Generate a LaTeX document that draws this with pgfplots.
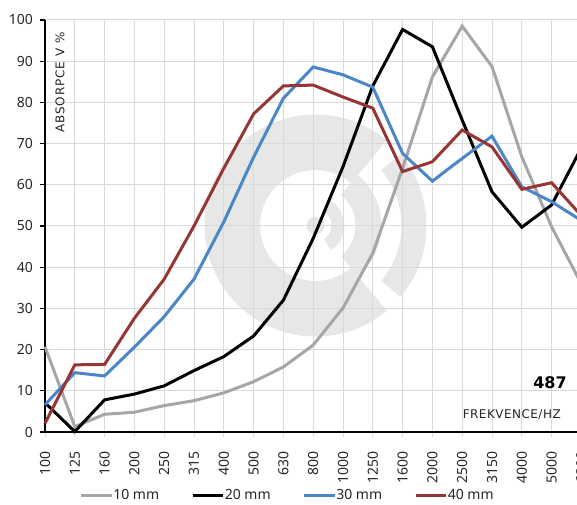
\documentclass[border=0pt]{standalone}
\usepackage{pgfplots}
\pgfplotsset{compat=1.18}
\usepackage{fontspec}
\setmainfont{Noto Sans}
\newfontfamily\lab{DejaVu Sans}
\definecolor{c10}{RGB}{166,166,166}
\definecolor{c20}{RGB}{0,0,0}
\definecolor{c30}{RGB}{74,134,200}
\definecolor{c40}{RGB}{150,54,52}
\definecolor{gridc}{RGB}{217,217,217}
\definecolor{wm}{RGB}{231,231,231}
\definecolor{txt}{RGB}{38,38,38}
\begin{document}
\begin{tikzpicture}[x=1pt,y=1pt]
\path[use as bounding box] (0,0) rectangle (432.75,378.75);
\clip (0,0) rectangle (432.75,378.75);
% watermark logo
\begin{scope}[shift={(236.6,209.6)}]
\fill[wm] (50:83.25) arc[start angle=50,end angle=310,radius=83.25] -- (310:41.6) arc[start angle=310,end angle=50,radius=41.6] -- cycle;
\fill[wm] (40:83.25) arc[start angle=40,end angle=-40,radius=83.25] -- (-40:64.5) arc[start angle=-40,end angle=40,radius=64.5] -- cycle;
\fill[wm] (50:49.5) arc[start angle=50,end angle=-50,radius=49.5] -- (-50:30) arc[start angle=-50,end angle=50,radius=30] -- cycle;
\fill[wm] (58:21.75) arc[start angle=58,end angle=-58,radius=21.75] -- (-58:12) arc[start angle=-58,end angle=58,radius=12] -- cycle;
\fill[wm] (0,0) circle[radius=6.75];
\end{scope}
\begin{axis}[
  at={(33.75pt,54.75pt)}, anchor=south west,
  width=402.3pt, height=309pt, scale only axis,
  xmin=0, xmax=18, ymin=0, ymax=100,
  clip=false,
  xtick={0,...,18},
  xticklabels={100,125,160,200,250,315,400,500,630,800,1000,1250,1600,2000,2500,3150,4000,5000,6300},
  ytick={0,10,...,90},
  extra y ticks={100},
  extra y tick style={grid style={draw=black!40, line width=1.5pt}},
  grid=major,
  major grid style={draw=gridc, line width=0.75pt},
  axis lines*=left,
  axis line style={-, black, line width=2pt},
  tick align=outside,
  major tick length=3.5pt,
  x tick style={draw=gridc, line width=0.75pt},
  y tick style={draw=black, line width=1pt},
  /pgf/number format/assume math mode=true,
  xticklabel style={yshift=-7.5pt, rotate=90, anchor=east, font=\fontsize{10.5}{12}\selectfont, text=txt},
  yticklabel style={font=\fontsize{10.5}{12}\selectfont, text=txt, xshift=-2pt},
  legend columns=4,
  legend style={at={(0.453,-0.153)}, anchor=center, draw=none, fill=none,
    font=\fontsize{10.5}{12}\selectfont, text=txt,
    /tikz/every even column/.append style={column sep=22pt},
    /tikz/every odd column/.append style={column sep=-2pt}},
  legend image code/.code={\draw[#1] (0pt,0pt) -- (23pt,0pt);},
]
\addplot[c10, line width=2.25pt] coordinates {(0,20.7) (1,1.3) (2,4.3) (3,4.8) (4,6.4) (5,7.6) (6,9.5) (7,12.2) (8,15.8) (9,21.1) (10,30.1) (11,43.4) (12,64) (13,86.2) (14,98.5) (15,88.7) (16,66.8) (17,49.8) (18,35.9)};
\addlegendentry{10 mm}
\addplot[c20, line width=2.25pt] coordinates {(0,7.1) (1,0.1) (2,7.8) (3,9.2) (4,11.2) (5,14.9) (6,18.3) (7,23.3) (8,32) (9,47) (10,64.4) (11,84) (12,97.7) (13,93.5) (14,75.7) (15,58.3) (16,49.7) (17,55.1) (18,69.0)};
\addlegendentry{20 mm}
\addplot[c30, line width=2.25pt] coordinates {(0,6.6) (1,14.4) (2,13.6) (3,20.6) (4,28) (5,37.1) (6,51) (7,66.7) (8,81) (9,88.6) (10,86.7) (11,83.7) (12,67.6) (13,60.9) (14,66.4) (15,71.8) (16,59.5) (17,55.9) (18,51.3)};
\addlegendentry{30 mm}
\addplot[c40, line width=2.25pt] coordinates {(0,2.1) (1,16.3) (2,16.4) (3,27.6) (4,37.1) (5,50) (6,64) (7,77.2) (8,84) (9,84.2) (10,81.3) (11,78.6) (12,63.2) (13,65.6) (14,73.3) (15,69.2) (16,58.9) (17,60.5) (18,52.5)};
\addlegendentry{40 mm}
\end{axis}
\node[rotate=90, anchor=east, inner sep=0pt, text=txt, font=\lab\fontsize{9}{10}\selectfont\addfontfeatures{LetterSpace=8}] at (45,354.75) {ABSORPCE V \%};
\node[anchor=east, inner sep=0pt, text=txt, font=\lab\fontsize{9}{10}\selectfont\addfontfeatures{LetterSpace=4}] at (420.75,67.5) {FREKVENCE/HZ};
\node[anchor=east, inner sep=0pt, text=black, font=\lab\bfseries\fontsize{12}{14}\selectfont] at (425.25,91.5) {487};
\end{tikzpicture}
\end{document}
